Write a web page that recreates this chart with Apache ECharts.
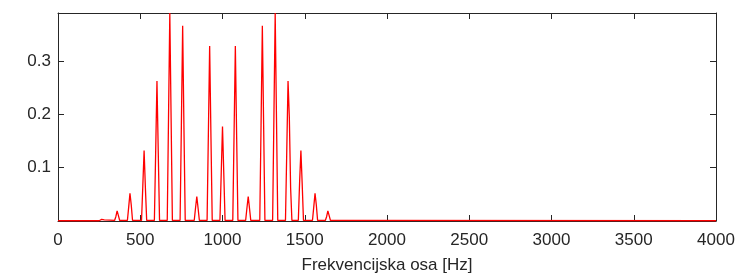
<!DOCTYPE html>
<html>
<head>
<meta charset="utf-8">
<script src="https://cdn.jsdelivr.net/npm/echarts@6/dist/echarts.min.js"></script>
<style>
  html, body { margin: 0; padding: 0; background: #fff; }
  #main { width: 753px; height: 277px; }
</style>
</head>
<body>
<div id="main"></div>
<script>
// frekvencije (Hz) i amplitude spektra, ocitano sa slike
var freqHz = [
  0, 250.0, 265.6, 273.4, 281.3,
  343.8, 351.6, 359.4, 367.2, 375.0,
  421.9, 429.7, 437.5, 445.3, 453.1,
  507.8, 515.6, 523.4, 531.3, 539.1,
  585.9, 593.8, 601.6, 609.4, 617.2,
  664.1, 671.9, 679.7, 687.5, 695.3,
  742.2, 750.0, 757.8, 765.6, 773.4,
  828.1, 835.9, 843.8, 851.6, 859.4,
  906.3, 914.1, 921.9, 929.7, 937.5,
  984.4, 992.2, 1000.0, 1007.8, 1015.6,
  1062.5, 1070.3, 1078.1, 1085.9, 1093.8,
  1140.6, 1148.4, 1156.3, 1164.1, 1171.9,
  1226.6, 1234.4, 1242.2, 1250.0, 1257.8,
  1304.7, 1312.5, 1320.3, 1328.1, 1335.9,
  1382.8, 1390.6, 1398.4, 1406.3, 1414.1, 1421.9,
  1460.9, 1468.8, 1476.6, 1484.4, 1492.2,
  1546.9, 1554.7, 1562.5, 1570.3, 1578.1,
  1625.0, 1632.8, 1640.6, 1648.4, 1656.3,
  1710.9, 1718.8, 1726.6, 4000
];
var amplituda = [
  0.0005, 0.0005, 0.003, 0.004, 0.002,
  0.001, 0.008, 0.019, 0.010, 0.001,
  0.001, 0.026, 0.052, 0.030, 0.001,
  0.001, 0.066, 0.132, 0.062, 0.001,
  0.001, 0.130, 0.2625, 0.130, 0.001,
  0.001, 0.194, 0.390, 0.194, 0.001,
  0.001, 0.180, 0.366, 0.175, 0.001,
  0.001, 0.024, 0.046, 0.024, 0.001,
  0.001, 0.163, 0.328, 0.160, 0.001,
  0.001, 0.089, 0.177, 0.089, 0.001,
  0.001, 0.163, 0.328, 0.160, 0.001,
  0.001, 0.024, 0.046, 0.024, 0.001,
  0.001, 0.180, 0.366, 0.180, 0.001,
  0.001, 0.194, 0.390, 0.194, 0.001,
  0.001, 0.130, 0.2625, 0.194, 0.062, 0.001,
  0.001, 0.073, 0.132, 0.070, 0.001,
  0.001, 0.026, 0.052, 0.030, 0.001,
  0.001, 0.008, 0.019, 0.010, 0.001,
  0.001, 0.004, 0.001, 0.0005
];
var xTicks = [0, 500, 1000, 1500, 2000, 2500, 3000, 3500, 4000];
var yTickLabels = ['0.1', '0.2', '0.3'];

var podaci = [];
for (var i = 0; i < freqHz.length; i++) {
    podaci.push([freqHz[i], amplituda[i]]);
}

var fontBoja = '#262626';
var osaLinija = { show: true, onZero: false, lineStyle: { color: '#262626', width: 1 } };
var tickUnutra = { show: true, inside: true, length: 6, lineStyle: { color: '#262626' } };

var myChart = echarts.init(document.getElementById('main'));
myChart.setOption({
    animation: false,
    backgroundColor: '#fff',
    grid: { left: 58, right: 37, top: 13, bottom: 56, containLabel: false, outerBoundsMode: 'none' },
    xAxis: [{
        type: 'value',
        min: xTicks[0],
        max: xTicks[xTicks.length - 1],
        interval: 500,
        name: 'Frekvencijska osa [Hz]',
        nameLocation: 'middle',
        nameGap: 36,
        nameTextStyle: { fontFamily: 'Liberation Sans', fontSize: 17, color: fontBoja },
        axisLine: osaLinija,
        axisTick: tickUnutra,
        splitLine: { show: false },
        axisLabel: {
            margin: 11,
            fontFamily: 'Liberation Sans', fontSize: 17, color: fontBoja,
            formatter: function (v) { return xTicks.indexOf(v) >= 0 ? String(v) : ''; }
        }
    }, {
        type: 'value', position: 'top',
        min: 0, max: 4000, interval: 500,
        axisLine: osaLinija, axisTick: tickUnutra,
        axisLabel: { show: false }, splitLine: { show: false }
    }],
    yAxis: [{
        type: 'value',
        min: 0, max: 0.39, interval: 0.1,
        axisLine: osaLinija,
        axisTick: tickUnutra,
        splitLine: { show: false },
        axisLabel: {
            margin: 7,
            fontFamily: 'Liberation Sans', fontSize: 17, color: fontBoja,
            formatter: function (v) {
                var s = v.toFixed(1);
                return yTickLabels.indexOf(s) >= 0 && Math.abs(v - parseFloat(s)) < 1e-9 ? s : '';
            }
        }
    }, {
        type: 'value', position: 'right',
        min: 0, max: 0.39, interval: 0.1,
        axisLine: osaLinija, axisTick: tickUnutra,
        axisLabel: { show: false }, splitLine: { show: false }
    }],
    series: [{
        type: 'line',
        data: podaci,
        showSymbol: false,
        symbol: 'none',
        lineStyle: { color: '#ff0000', width: 1.3 },
        clip: true
    }]
});
</script>
</body>
</html>
